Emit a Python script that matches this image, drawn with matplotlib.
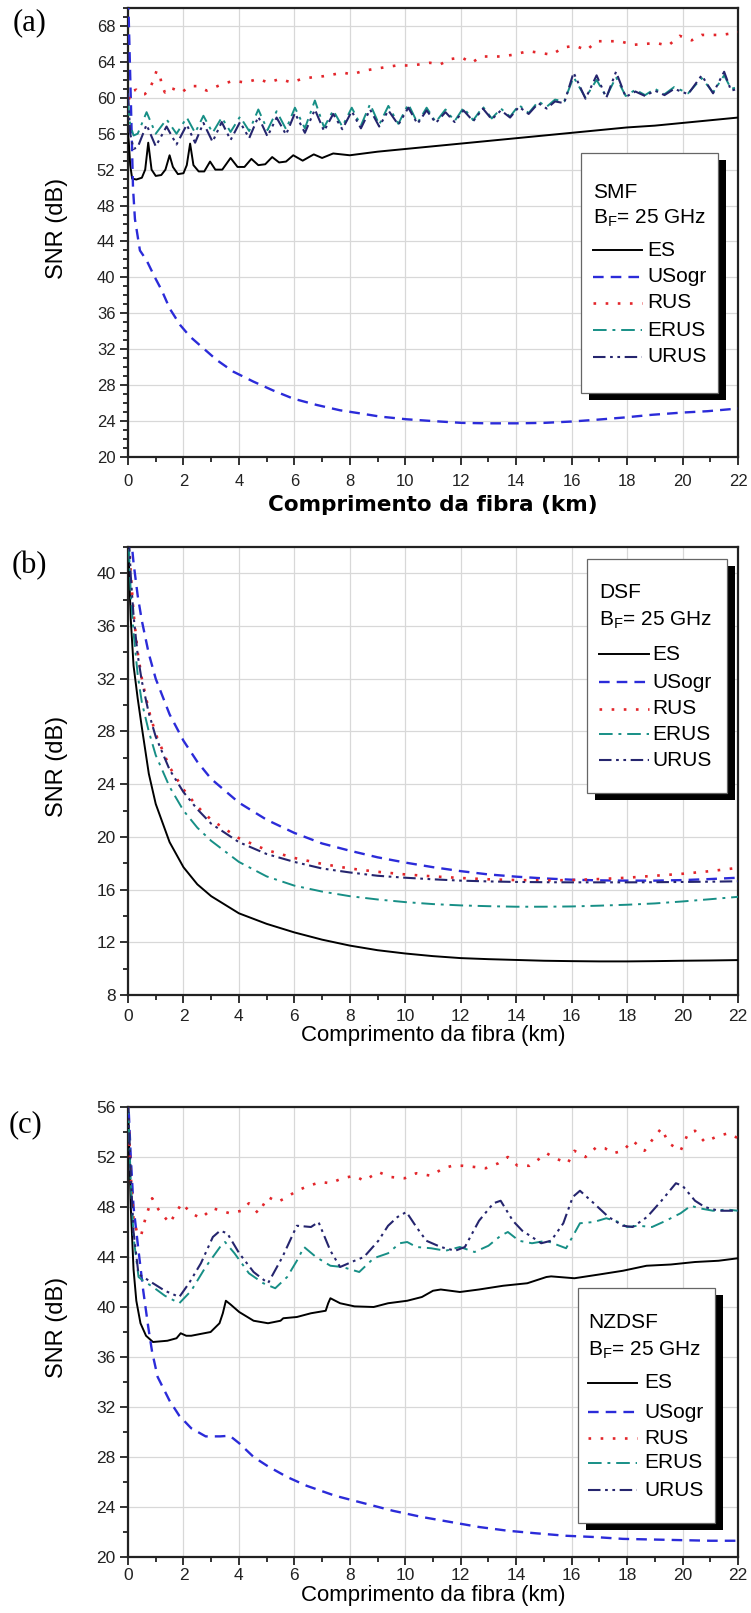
import matplotlib
matplotlib.use('Agg')
import matplotlib.pyplot as plt
from matplotlib.lines import Line2D
from matplotlib.patches import Rectangle
from matplotlib.ticker import MultipleLocator

plt.rcParams['font.family'] = ['Liberation Sans', 'DejaVu Sans']
plt.rcParams['mathtext.fontset'] = 'custom'
plt.rcParams['mathtext.rm'] = 'Liberation Sans'

W, H = 751, 1613
NAMES = ['ES', 'USogr', 'RUS', 'ERUS', 'URUS']

# ---------------- (a) SMF ----------------
es_a_x = [0.0, 0.03, 0.08, 0.15, 0.3, 0.5, 0.62, 0.73, 0.85, 1.0, 1.2, 1.35, 1.5, 1.62, 1.8,
          2.0, 2.12, 2.24, 2.36, 2.55, 2.75, 2.96, 3.15, 3.4, 3.7, 3.95, 4.2, 4.45, 4.7, 4.95,
          5.2, 5.45, 5.7, 5.96, 6.3, 6.7, 7.0, 7.4, 8.0, 9.0, 10.0, 11.0, 12.0, 13.0, 14.0,
          15.0, 16.0, 17.0, 18.0, 19.0, 20.0, 21.0, 22.0]
es_a = [56.0, 55.0, 52.5, 51.0, 50.9, 51.1, 52.0, 55.0, 52.0, 51.3, 51.4, 52.0, 53.6, 52.3, 51.5,
        51.6, 52.5, 54.9, 52.5, 51.8, 51.8, 52.9, 52.0, 52.0, 53.3, 52.3, 52.3, 53.2, 52.5, 52.6,
        53.4, 52.8, 52.9, 53.6, 53.0, 53.7, 53.3, 53.8, 53.6, 54.0, 54.3, 54.6, 54.9, 55.2, 55.5,
        55.8, 56.1, 56.4, 56.7, 56.9, 57.2, 57.5, 57.8]

usogr_a_x = [0.0, 0.1, 0.18, 0.25, 0.43, 0.67, 0.97, 1.21, 1.51, 1.88, 2.24, 2.72, 3.2, 3.8,
             4.52, 5.24, 5.96, 6.8, 7.65, 8.49, 9.09, 10.05, 11.0, 12.03, 13.0, 14.02, 15.0,
             16.0, 16.9, 17.9, 18.9, 20.0, 20.9, 22.0]
usogr_a = [72.0, 60.0, 50.0, 46.5, 43.0, 41.9, 40.0, 38.6, 36.5, 34.7, 33.4, 32.1, 30.8, 29.5,
           28.4, 27.4, 26.5, 25.8, 25.2, 24.8, 24.5, 24.2, 24.0, 23.8, 23.75, 23.75, 23.8,
           23.95, 24.15, 24.4, 24.7, 24.95, 25.1, 25.4]

rus_a_x = [0.0, 0.1, 0.19, 0.3, 0.45, 0.6, 0.75, 0.91, 1.03, 1.15, 1.21, 1.33, 1.45, 1.63, 1.93,
           2.24, 2.48, 2.84, 3.08, 3.38, 3.8, 4.22, 4.7, 5.06, 5.48, 5.9, 6.26, 6.68, 7.04, 7.4,
           7.77, 8.07, 8.49, 8.85, 9.27, 9.69, 10.11, 10.47, 10.89, 11.25, 11.61, 12.03, 12.39,
           12.75, 13.05, 13.47, 13.9, 14.44, 14.86, 15.28, 15.7, 16.12, 16.54, 16.9, 17.32,
           17.74, 18.22, 18.64, 19.06, 19.48, 19.9, 20.33, 20.69, 21.1, 21.4, 21.83, 22.0]
rus_a = [60.0, 59.9, 60.8, 60.9, 60.4, 60.4, 60.8, 61.9, 63.0, 62.6, 61.5, 60.6, 61.1, 61.0, 60.6,
         61.3, 61.3, 60.8, 61.1, 61.5, 61.9, 61.7, 62.1, 61.7, 62.1, 61.7, 62.1, 62.3, 62.4, 62.6,
         62.8, 62.6, 63.0, 63.2, 63.4, 63.6, 63.6, 63.7, 63.9, 63.7, 64.3, 64.5, 63.9,
         64.6, 64.6, 64.6, 64.8, 65.2, 65.0, 64.8, 65.6, 65.8, 65.3, 66.3, 66.3,
         66.3, 65.9, 66.0, 66.1, 65.8, 66.9, 66.4, 67.0, 67.0, 67.0, 67.2, 67.3]

osc_a_x = [0.0, 0.08, 0.2, 0.35, 0.67, 1.0, 1.39, 1.75, 2.12, 2.42, 2.72, 3.05, 3.38, 3.7, 4.04,
           4.37, 4.7, 5.03, 5.36, 5.7, 6.02, 6.38, 6.74, 7.07, 7.4, 7.73, 8.07, 8.4, 8.73, 9.06,
           9.39, 9.75, 10.11, 10.44, 10.77, 11.1, 11.45, 11.78, 12.1, 12.45, 12.8, 13.12, 13.45,
           13.78, 14.1, 14.45, 14.8, 15.1, 15.4, 15.73, 16.07, 16.5, 16.9, 17.25, 17.6, 17.95,
           18.3, 18.65, 19.0, 19.35, 19.7, 20.2, 20.69, 21.1, 21.5, 21.75, 22.0]
erus_a = [59.5, 57.0, 55.8, 56.0, 58.4, 56.0, 57.6, 56.0, 57.8, 56.1, 58.0, 56.1, 57.8, 56.2, 57.9,
          56.3, 58.7, 56.4, 58.5, 56.5, 58.9, 56.6, 59.7, 56.7, 58.6, 56.8, 58.9, 56.9, 59.3, 57.0,
          59.1, 57.1, 59.3, 57.2, 58.9, 57.3, 58.7, 57.4, 58.9, 57.5, 59.0, 57.7, 58.8,
          57.9, 59.2, 58.3, 59.6, 59.0, 59.8, 59.6, 62.3, 60.0, 62.0, 60.1, 62.3, 60.2,
          60.9, 60.3, 61.0, 60.4, 61.2, 60.5, 62.2, 60.6, 62.5, 61.0, 61.2]
urus_a = [60.5, 56.0, 54.3, 54.5, 57.0, 54.6, 56.8, 54.8, 57.0, 55.0, 57.2, 55.1, 57.3, 55.3, 57.3,
          55.5, 57.9, 55.7, 57.8, 55.9, 58.3, 56.1, 58.7, 56.3, 58.2, 56.5, 58.5, 56.6, 58.7, 56.8,
          58.6, 57.0, 58.9, 57.1, 58.6, 57.2, 58.4, 57.3, 58.6, 57.4, 58.8, 57.6, 58.6,
          57.8, 59.0, 58.2, 59.4, 58.8, 59.6, 59.4, 62.8, 59.9, 62.5, 60.0, 62.9, 60.1,
          60.7, 60.2, 60.8, 60.3, 61.0, 60.4, 62.5, 60.5, 62.9, 60.8, 61.0]

# ---------------- (b) DSF ----------------
b_x = [0.0, 0.05, 0.1, 0.2, 0.35, 0.5, 0.75, 1.0, 1.5, 2.0, 2.5, 3.0, 4.0, 5.0, 6.0, 7.0, 8.0,
       9.0, 10.0, 11.0, 12.0, 13.0, 14.0, 15.0, 16.0, 17.0, 18.0, 19.0, 20.0, 21.0, 22.0]
es_b = [44.0, 39.5, 36.5, 33.0, 30.5, 28.3, 24.8, 22.5, 19.6, 17.7, 16.4, 15.5, 14.2, 13.4, 12.75,
        12.2, 11.75, 11.4, 11.15, 10.95, 10.8, 10.72, 10.66, 10.6, 10.57, 10.55, 10.55, 10.57,
        10.6, 10.62, 10.65]
usogr_b = [47.0, 45.0, 43.0, 40.8, 38.3, 36.4, 33.9, 32.0, 29.3, 27.3, 25.7, 24.4, 22.6, 21.3,
           20.3, 19.5, 18.95, 18.45, 18.05, 17.7, 17.4, 17.15, 16.98, 16.85, 16.75, 16.7, 16.68,
           16.68, 16.72, 16.8, 16.9]
rus_b = [45.0, 42.0, 40.0, 37.0, 34.0, 32.0, 29.6, 27.8, 25.3, 23.6, 22.3, 21.3, 19.9, 19.0, 18.4,
         17.95, 17.6, 17.35, 17.15, 17.0, 16.88, 16.78, 16.72, 16.7, 16.72, 16.8, 16.9, 17.05,
         17.2, 17.4, 17.65]
erus_b = [44.0, 41.0, 38.5, 35.5, 32.3, 30.2, 28.0, 26.2, 23.8, 22.0, 20.7, 19.7, 18.1, 17.0,
          16.3, 15.85, 15.5, 15.25, 15.05, 14.9, 14.8, 14.74, 14.7, 14.7, 14.72, 14.78, 14.85,
          14.95, 15.1, 15.27, 15.45]
urus_b = [45.0, 42.0, 39.8, 36.8, 33.8, 31.8, 29.4, 27.6, 25.1, 23.4, 22.1, 21.0, 19.6, 18.7,
          18.1, 17.6, 17.3, 17.05, 16.9, 16.78, 16.68, 16.62, 16.58, 16.56, 16.55, 16.55, 16.55,
          16.56, 16.58, 16.6, 16.63]

# ---------------- (c) NZDSF ----------------
es_c_x = [0.0, 0.1, 0.2, 0.3, 0.45, 0.65, 0.9, 1.42, 1.75, 1.9, 2.1, 2.28, 2.98, 3.3, 3.42, 3.53,
          3.7, 4.01, 4.53, 5.05, 5.5, 5.6, 6.09, 6.6, 7.13, 7.22, 7.3, 7.65, 8.17, 8.86, 9.38,
          10.07, 10.6, 11.0, 11.28, 11.97, 12.66, 13.53, 14.4, 15.09, 15.26, 16.1, 16.99, 17.85,
          18.7, 19.58, 20.45, 21.3, 22.0]
es_c = [56.5, 48.0, 43.0, 40.5, 38.7, 37.7, 37.2, 37.3, 37.5, 37.9, 37.7, 37.7, 38.0, 38.7, 39.5,
        40.5, 40.2, 39.6, 38.9, 38.7, 38.9, 39.1, 39.2, 39.5, 39.7, 40.3, 40.7, 40.3, 40.05, 40.0,
        40.3, 40.5, 40.8, 41.3, 41.4, 41.2, 41.4, 41.7, 41.9, 42.4, 42.45, 42.3, 42.6, 42.9,
        43.3, 43.4, 43.6, 43.7, 43.9]

usogr_c_x = [0.0, 0.1, 0.2, 0.38, 0.55, 0.73, 0.87, 1.07, 1.5, 1.85, 2.28, 2.8, 3.32, 3.67, 4.01,
             4.53, 5.05, 5.74, 6.44, 7.47, 8.51, 9.55, 10.6, 11.63, 12.66, 13.7, 14.7, 15.78,
             16.8, 17.85, 18.9, 19.93, 21.0, 22.0]
usogr_c = [57.0, 52.0, 48.0, 44.5, 41.3, 38.4, 36.4, 34.4, 32.5, 31.3, 30.3, 29.65, 29.65, 29.7,
           29.1, 28.0, 27.25, 26.4, 25.7, 24.9, 24.3, 23.7, 23.2, 22.8, 22.4, 22.1, 21.9, 21.7,
           21.6, 21.45, 21.4, 21.35, 21.3, 21.3]

rus_c_x = [0.0, 0.1, 0.2, 0.35, 0.47, 0.64, 0.87, 1.1, 1.5, 1.94, 2.28, 2.63, 3.06, 3.35, 3.67,
           4.1, 4.36, 4.7, 5.05, 5.4, 5.74, 6.09, 6.52, 6.96, 7.3, 7.73, 8.17, 8.51, 9.03, 9.46,
           9.98, 10.4, 10.93, 11.37, 11.7, 12.06, 12.5, 12.9, 13.36, 13.7, 14.05, 14.48, 14.8,
           15.1, 15.4, 15.86, 16.1, 16.5, 16.9, 17.2, 17.5, 17.85, 18.2, 18.63, 18.98, 19.24,
           19.5, 19.93, 20.2, 20.45, 20.8, 21.3, 21.66, 22.0]
rus_c = [56.0, 50.5, 47.0, 45.8, 45.7, 47.2, 48.7, 47.8, 46.7, 48.3, 47.5, 47.1, 47.9, 47.7, 47.5,
         47.7, 48.3, 47.5, 48.8, 48.4, 48.8, 49.3, 49.7, 50.0, 49.9, 50.3, 50.5, 50.1, 50.8, 50.4,
         50.3, 50.7, 50.5, 51.1, 51.3, 51.3, 51.2, 51.1, 51.5, 52.0, 51.3, 51.3, 51.8,
         52.3, 51.9, 51.5, 52.5, 52.0, 52.8, 52.7, 52.3, 52.5, 53.3, 52.5, 53.6, 54.3,
         53.1, 52.5, 53.9, 54.1, 53.2, 53.7, 53.9, 53.5]

erus_c_x = [0.0, 0.1, 0.2, 0.38, 0.55, 0.9, 1.33, 1.85, 2.28, 2.8, 3.32, 3.5, 3.84, 4.36, 4.88,
            5.31, 5.74, 6.09, 6.35, 6.78, 7.3, 7.73, 8.34, 8.86, 9.38, 9.8, 10.07, 10.4, 10.93,
            11.45, 11.97, 12.5, 13.0, 13.44, 13.7, 14.1, 14.57, 15.09, 15.8, 16.3, 16.8, 17.25,
            17.7, 18.0, 18.4, 18.9, 19.4, 19.93, 20.3, 20.6, 21.1, 21.6, 22.0]
erus_c = [56.5, 50.0, 45.6, 42.4, 42.1, 41.6, 40.9, 40.3, 41.3, 43.2, 44.8, 45.2, 44.3, 42.7, 41.9,
          41.5, 42.4, 43.7, 44.8, 44.0, 43.3, 43.2, 42.8, 43.9, 44.3, 45.1, 45.2, 44.8, 44.7,
          44.5, 44.8, 44.4, 44.9, 45.7, 46.0, 45.3, 45.1, 45.3, 44.7, 46.7, 46.8, 47.1,
          46.8, 46.4, 46.5, 46.4, 46.9, 47.5, 48.1, 47.9, 47.7, 47.8, 47.7]

urus_c_x = [0.0, 0.1, 0.2, 0.38, 0.55, 0.9, 1.33, 1.85, 2.2, 2.63, 3.06, 3.32, 3.58, 4.01, 4.53,
            5.05, 5.57, 6.09, 6.6, 6.87, 7.3, 7.65, 8.17, 8.51, 9.03, 9.38, 9.72, 10.04, 10.4,
            10.76, 11.28, 11.8, 12.15, 12.66, 13.18, 13.44, 13.88, 14.22, 14.57, 14.9, 15.26,
            15.7, 16.04, 16.3, 16.8, 17.33, 17.85, 18.2, 18.72, 19.24, 19.76, 20.0, 20.45, 20.8,
            21.3, 22.0]
urus_c = [56.5, 50.5, 46.0, 42.6, 42.4, 41.9, 41.3, 40.8, 41.9, 43.5, 45.6, 46.1, 45.9, 44.3, 42.8,
          41.9, 44.0, 46.5, 46.4, 46.8, 44.5, 43.2, 43.7, 44.0, 45.3, 46.5, 47.2, 47.6, 46.4,
          45.3, 44.8, 44.5, 44.8, 46.9, 48.3, 48.5, 46.9, 46.1, 45.6, 45.1, 45.3,
          46.7, 48.8, 49.3, 48.3, 47.2, 46.5, 46.4, 47.2, 48.5, 49.9, 49.7, 48.5, 48.0,
          47.7, 47.7]

STYLES = {
    'ES': dict(color='black', lw=1.4, ls='-'),
    'USogr': dict(color='#2b2bd9', lw=1.7, ls=(0, (4.5, 3))),
    'RUS': dict(color='#e3262b', lw=1.9, ls=(0, (1, 3.6))),
    'ERUS': dict(color='#178f86', lw=1.4, ls=(0, (7, 3, 1.5, 3))),
    'URUS': dict(color='#25256e', lw=1.5, ls=(0, (6, 2.2, 1.3, 2.2, 1.3, 2.2))),
}


def fx(x):
    return x / W


def fy(y):
    return 1 - y / H


fig = plt.figure(figsize=(W / 100, H / 100), dpi=100)


def make_axes(box, ylim, ymajor, yminor, series, xlab, tick_pad, tsize, snr_y, xl_y, xl_kw):
    l, t, r, b = box
    ax = fig.add_axes([fx(l), fy(b), (r - l) / W, (b - t) / H])
    for name in NAMES:
        xs, ys = series[name]
        st = STYLES[name]
        ax.plot(xs, ys, color=st['color'], lw=st['lw'], ls=st['ls'], zorder=3)
    ax.set_xlim(0, 22)
    ax.set_ylim(*ylim)
    ax.xaxis.set_major_locator(MultipleLocator(2))
    ax.xaxis.set_minor_locator(MultipleLocator(1))
    ax.yaxis.set_major_locator(MultipleLocator(ymajor))
    ax.yaxis.set_minor_locator(MultipleLocator(yminor))
    ax.grid(True, which='major', color='#d8d8d8', lw=0.9, zorder=0)
    ax.set_axisbelow(True)
    for sp in ax.spines.values():
        sp.set_linewidth(1.6)
        sp.set_color('#222222')
    ax.tick_params(which='both', direction='out', top=False, right=False, width=1.3,
                   colors='#222222', labelsize=tsize)
    ax.tick_params(which='major', length=6)
    ax.tick_params(which='minor', length=3.5)
    ax.tick_params(axis='x', which='major', pad=tick_pad)
    ax.tick_params(axis='y', which='major', pad=3)
    fig.text(fx(57), fy(snr_y), 'SNR (dB)', rotation=90, ha='center', va='center',
             fontsize=17)
    fig.text(fx((l + r) / 2), fy(xl_y), xlab, ha='center', va='center', **xl_kw)
    return ax


def draw_key(box, header, head_ys, entry_ys, x_text, x_l0, x_l1, x_lab, size=15):
    l, t, r, b = box
    fig.add_artist(Rectangle((fx(l + 8), fy(b + 7)), (r - l) / W, (b - t) / H,
                             transform=fig.transFigure, fc='black', ec='none', zorder=10))
    fig.add_artist(Rectangle((fx(l), fy(b)), (r - l) / W, (b - t) / H,
                             transform=fig.transFigure, fc='white', ec='#666666', lw=0.9,
                             zorder=11))
    for txt, y in zip(header, head_ys):
        fig.text(fx(x_text), fy(y), txt, ha='left', va='center', fontsize=size, zorder=12)
    for name, y in zip(NAMES, entry_ys):
        st = STYLES[name]
        fig.add_artist(Line2D([fx(x_l0), fx(x_l1)], [fy(y), fy(y)], transform=fig.transFigure,
                              color=st['color'], lw=st['lw'], ls=st['ls'], zorder=12))
        fig.text(fx(x_lab), fy(y), name, ha='left', va='center', fontsize=size, zorder=12)


bf = r'B$_\mathregular{F}$= 25 GHz'
xlab = 'Comprimento da fibra (km)'

make_axes((128, 8, 738, 457), (20, 70), 4, 1,
          {'ES': (es_a_x, es_a), 'USogr': (usogr_a_x, usogr_a), 'RUS': (rus_a_x, rus_a),
           'ERUS': (osc_a_x, erus_a), 'URUS': (osc_a_x, urus_a)}, xlab, 6, 12,
          228, 505, dict(fontsize=15.5, fontweight='bold', family=['DejaVu Sans']))
draw_key((581, 153, 718, 393), ['SMF', bf], [192, 218], [250, 277, 303, 330, 357],
         593, 593, 642, 647)

make_axes((128, 547, 738, 995), (8, 42), 4, 2,
          {'ES': (b_x, es_b), 'USogr': (b_x, usogr_b), 'RUS': (b_x, rus_b),
           'ERUS': (b_x, erus_b), 'URUS': (b_x, urus_b)}, xlab, 4, 12.5,
          766, 1035, dict(fontsize=16))
draw_key((587, 559, 727, 793), ['DSF', bf], [593, 620], [654, 682, 709, 734, 760],
         599, 599, 649, 652)

make_axes((128, 1107, 738, 1557), (20, 56), 4, 2,
          {'ES': (es_c_x, es_c), 'USogr': (usogr_c_x, usogr_c), 'RUS': (rus_c_x, rus_c),
           'ERUS': (erus_c_x, erus_c), 'URUS': (urus_c_x, urus_c)}, xlab, 2, 12.5,
          1327, 1595, dict(fontsize=16))
draw_key((578, 1288, 715, 1523), ['NZDSF', bf], [1322, 1350], [1383, 1412, 1438, 1463, 1490],
         588, 588, 637, 644)

for lab, (x, y) in zip(['(a)', '(b)', '(c)'], [(30, 23), (29, 566), (26, 1125)]):
    fig.text(fx(x), fy(y), lab, ha='center', va='center', fontsize=22,
             family=['Liberation Serif', 'DejaVu Serif'])

fig.savefig('out.png', dpi=100, facecolor='white')
